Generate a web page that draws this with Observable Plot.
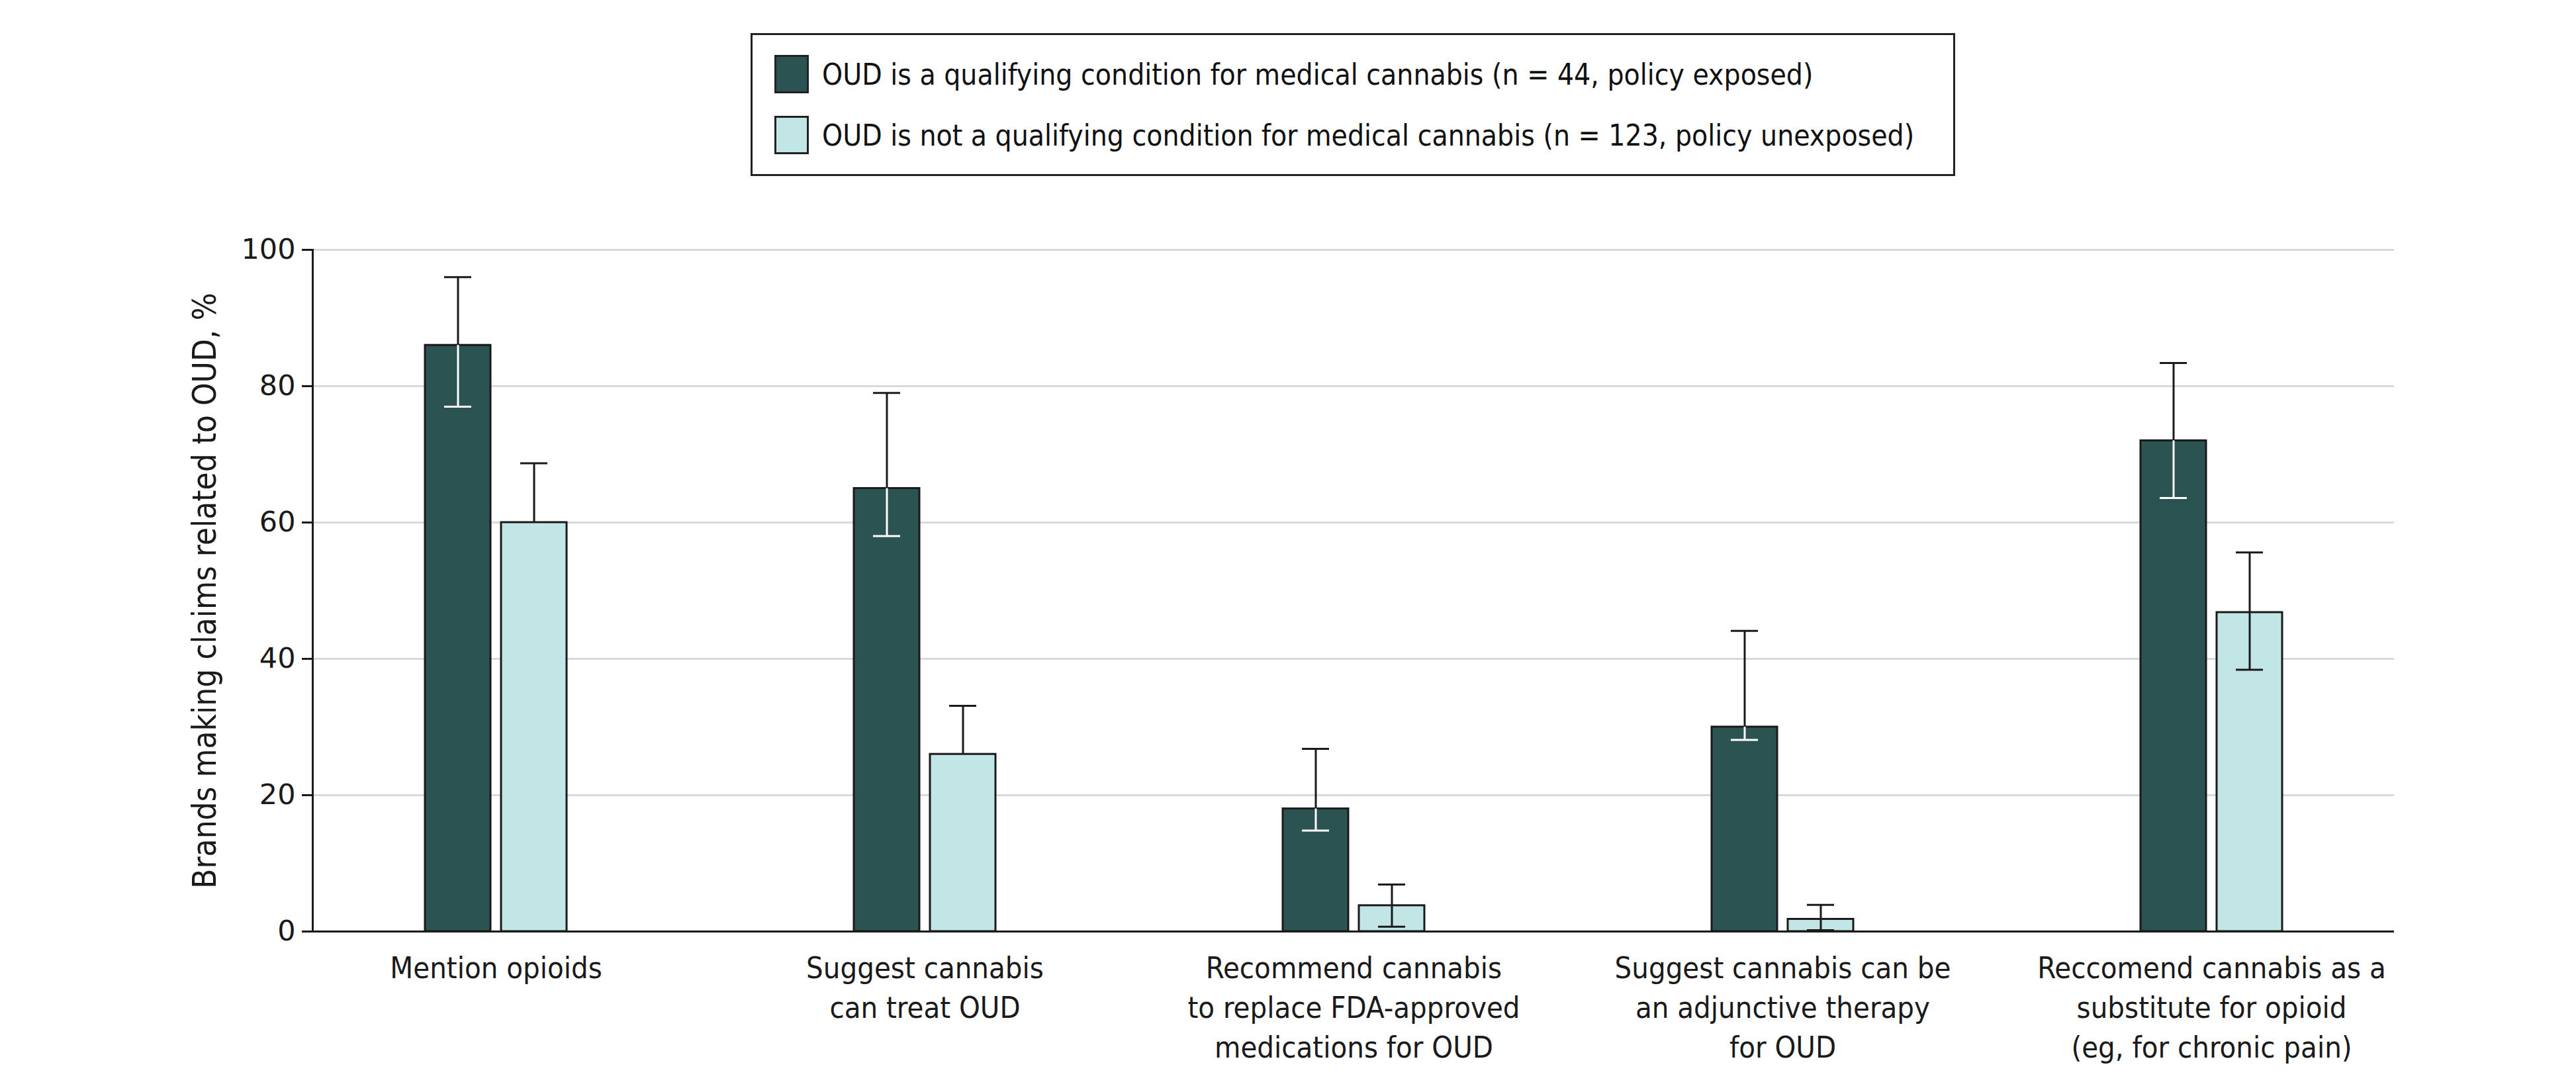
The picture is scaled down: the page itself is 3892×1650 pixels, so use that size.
<!DOCTYPE html>
<html>
<head>
<meta charset="utf-8">
<script src="https://cdn.jsdelivr.net/npm/d3@7"></script>
<script src="https://cdn.jsdelivr.net/npm/@observablehq/plot@0.6"></script>
<style>
  html, body { margin: 0; padding: 0; background: #fff; }
  body { width: 3892px; height: 1650px; overflow: hidden; }
  .cond { font-family: "Liberation Sans Narrow", "DejaVu Sans Condensed", "Roboto Condensed", "Liberation Sans", sans-serif; font-stretch: condensed; }
  #legendWrap { position: relative; height: 300px; }
  #legend { position: absolute; left: 1134px; top: 50px; width: 1814px; height: 210px; border: 3px solid #222; box-sizing: content-box; }
  .item { position: absolute; left: 33px; display: flex; align-items: center; font-size: 44px; color: #111; white-space: nowrap; }
  .sw { width: 52px; height: 58px; border: 3px solid #222; box-sizing: border-box; margin-right: 20px; }
</style>
</head>
<body>
<div id="legendWrap"><div id="legend" class="cond"></div></div>
<div id="chart"></div>
<script>
// ---- data ----
const categories = [
  "Mention opioids",
  "Suggest cannabis\ncan treat OUD",
  "Recommend cannabis\nto replace FDA-approved\nmedications for OUD",
  "Suggest cannabis can be\nan adjunctive therapy\nfor OUD",
  "Reccomend cannabis as a\nsubstitute for opioid\n(eg, for chronic pain)"
];
const seriesNames = [
  "OUD is a qualifying condition for medical cannabis (n = 44, policy exposed)",
  "OUD is not a qualifying condition for medical cannabis (n = 123, policy unexposed)"
];
const seriesColors = ["#2a5352", "#c1e6e5"];
const exposedValues = [86, 65, 18, 30, 72];
const exposedLower  = [77, 58, 14.8, 28.1, 63.6];
const exposedUpper  = [96, 79, 26.8, 44.1, 83.4];
const unexposedValues = [60, 26, 3.8, 1.8, 46.8];
const unexposedLower  = [null, null, 0.7, 0.2, 38.4];
const unexposedUpper  = [68.7, 33.1, 6.9, 3.9, 55.6];
const yTicks = [0, 20, 40, 60, 80, 100];
const yLabel = "Brands making claims related to OUD, %";

// ---- legend ----
const legend = document.getElementById("legend");
seriesNames.forEach((name, i) => {
  const it = document.createElement("div");
  it.className = "item";
  it.style.top = (i === 0 ? 30 : 122) + "px";
  const sw = document.createElement("div");
  sw.className = "sw";
  sw.style.background = seriesColors[i];
  const tx = document.createElement("span");
  tx.textContent = name;
  it.appendChild(sw); it.appendChild(tx);
  legend.appendChild(it);
});

// ---- table ----
const table = categories.map((c, i) => ({
  category: c,
  exp: exposedValues[i], expLo: exposedLower[i], expHi: exposedUpper[i],
  unexp: unexposedValues[i], unexpLo: unexposedLower[i], unexpHi: unexposedUpper[i]
}));

const condFont = '"Liberation Sans Narrow", "DejaVu Sans Condensed", "Roboto Condensed", "Liberation Sans", sans-serif';
const ink = "#1a1a1a";

const plot = Plot.plot({
  width: 3892,
  height: 1350,
  marginLeft: 472,
  marginRight: 275,
  marginTop: 77,
  marginBottom: 243,
  style: { background: "#fff", color: ink },
  x: { domain: categories, paddingInner: 0.670, paddingOuter: 0.2583, label: null },
  y: { domain: [0, 100], label: null },
  marks: [
    Plot.gridY(yTicks.filter(d => d > 0), { stroke: "#d9d9d9", strokeOpacity: 1, strokeWidth: 3 }),
    Plot.barY(table, { x: "category", y: "exp", fill: seriesColors[0], stroke: ink, strokeWidth: 3, insetRight: 115 }),
    Plot.barY(table, { x: "category", y: "unexp", fill: seriesColors[1], stroke: ink, strokeWidth: 3, insetLeft: 115 }),
    // exposed error bars: black above bar top, white inside bar
    Plot.ruleX(table, { x: "category", y1: "exp", y2: "expHi", dx: -57.5, stroke: ink, strokeWidth: 3 }),
    Plot.tickY(table, { x: "category", y: "expHi", insetLeft: 29, insetRight: 144, stroke: ink, strokeWidth: 3 }),
    Plot.ruleX(table, { x: "category", y1: "expLo", y2: "exp", dx: -57.5, stroke: "#fff", strokeWidth: 3 }),
    Plot.tickY(table, { x: "category", y: "expLo", insetLeft: 29, insetRight: 144, stroke: "#fff", strokeWidth: 3 }),
    // unexposed error bars
    Plot.ruleX(table, { x: "category", y1: d => d.unexpLo ?? d.unexp, y2: "unexpHi", dx: 57.5, stroke: ink, strokeWidth: 3 }),
    Plot.tickY(table, { x: "category", y: "unexpHi", insetLeft: 144, insetRight: 29, stroke: ink, strokeWidth: 3 }),
    Plot.tickY(table.filter(d => d.unexpLo != null), { x: "category", y: "unexpLo", insetLeft: 144, insetRight: 29, stroke: ink, strokeWidth: 3 }),
    Plot.ruleY([0], { stroke: ink, strokeWidth: 3 }),
    Plot.frame({ anchor: "left", stroke: ink, strokeWidth: 3 }),
    Plot.axisY({ ticks: yTicks, tickSize: 16, tickPadding: 10, fontSize: 43, fontFamily: "DejaVu Sans", tickFormat: d => String(d), strokeWidth: 3, label: null }),
    Plot.axisX({ tickSize: 0, tickPadding: 28, fontSize: 45, fontFamily: condFont, lineHeight: 1.33, label: null }),
    Plot.text([yLabel], { frameAnchor: "left", dx: -162, rotate: -90, textAnchor: "middle", fontSize: 49, fontFamily: condFont, fill: ink })
  ]
});
document.getElementById("chart").appendChild(plot);
</script>
</body>
</html>
